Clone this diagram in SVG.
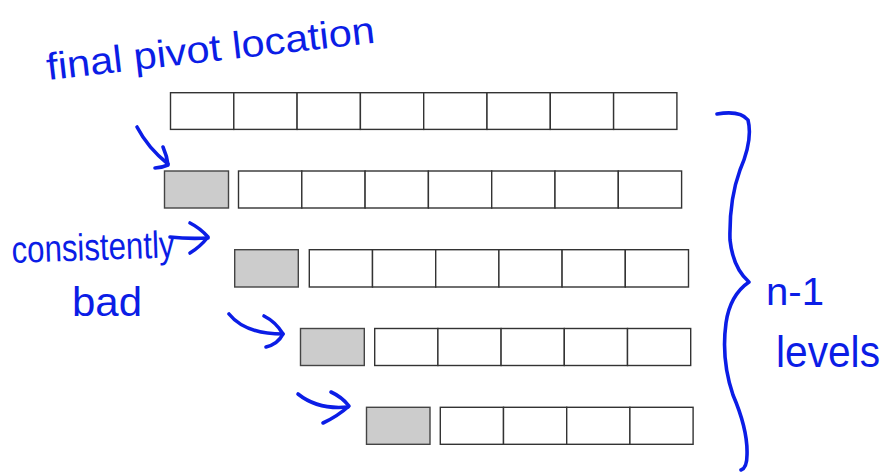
<svg xmlns="http://www.w3.org/2000/svg" width="888" height="474" viewBox="0 0 888 474">
<style>
.cell{fill:#fff;stroke:#333;stroke-width:1.4}
.piv{fill:#cccccc;stroke:#444;stroke-width:1.4}
.ink{fill:none;stroke:#0b1de6;stroke-width:3.6;stroke-linecap:round;stroke-linejoin:round}
.hand{fill:#0b1de6;font-family:"Liberation Sans","DejaVu Sans",sans-serif}
</style>
<rect width="888" height="474" fill="#fff"/>
<g id="row1">
<rect class="cell" x="170.5" y="92.7" width="63.3" height="36.7"/>
<rect class="cell" x="233.8" y="92.7" width="63.3" height="36.7"/>
<rect class="cell" x="297.1" y="92.7" width="63.3" height="36.7"/>
<rect class="cell" x="360.4" y="92.7" width="63.3" height="36.7"/>
<rect class="cell" x="423.7" y="92.7" width="63.3" height="36.7"/>
<rect class="cell" x="487" y="92.7" width="63.3" height="36.7"/>
<rect class="cell" x="550.3" y="92.7" width="63.3" height="36.7"/>
<rect class="cell" x="613.6" y="92.7" width="63.3" height="36.7"/>
</g>
<g id="row2">
<rect class="piv" x="164.5" y="171" width="64" height="37"/>
<rect class="cell" x="238.5" y="171" width="63.3" height="37"/>
<rect class="cell" x="301.8" y="171" width="63.3" height="37"/>
<rect class="cell" x="365.1" y="171" width="63.3" height="37"/>
<rect class="cell" x="428.4" y="171" width="63.3" height="37"/>
<rect class="cell" x="491.7" y="171" width="63.3" height="37"/>
<rect class="cell" x="555" y="171" width="63.3" height="37"/>
<rect class="cell" x="618.3" y="171" width="63.3" height="37"/>
</g>
<g id="row3">
<rect class="piv" x="234.7" y="249.7" width="63.6" height="37.3"/>
<rect class="cell" x="309.3" y="249.7" width="63.2" height="37.3"/>
<rect class="cell" x="372.5" y="249.7" width="63.2" height="37.3"/>
<rect class="cell" x="435.7" y="249.7" width="63.2" height="37.3"/>
<rect class="cell" x="498.9" y="249.7" width="63.2" height="37.3"/>
<rect class="cell" x="562.1" y="249.7" width="63.2" height="37.3"/>
<rect class="cell" x="625.3" y="249.7" width="63.2" height="37.3"/>
</g>
<g id="row4">
<rect class="piv" x="300.5" y="328.5" width="63.8" height="37"/>
<rect class="cell" x="374.7" y="328.5" width="63.2" height="37"/>
<rect class="cell" x="437.9" y="328.5" width="63.2" height="37"/>
<rect class="cell" x="501.1" y="328.5" width="63.2" height="37"/>
<rect class="cell" x="564.3" y="328.5" width="63.2" height="37"/>
<rect class="cell" x="627.5" y="328.5" width="63.2" height="37"/>
</g>
<g id="row5">
<rect class="piv" x="366.5" y="407.3" width="63.5" height="37"/>
<rect class="cell" x="440.3" y="407.3" width="63.2" height="37"/>
<rect class="cell" x="503.5" y="407.3" width="63.2" height="37"/>
<rect class="cell" x="566.7" y="407.3" width="63.2" height="37"/>
<rect class="cell" x="629.9" y="407.3" width="63.2" height="37"/>
</g>
<g id="labels">
<text class="hand" x="48" y="80" font-size="38" textLength="330" lengthAdjust="spacingAndGlyphs" transform="rotate(-6.5 48 80)">final pivot location</text>
<text class="hand" x="12" y="263" font-size="38" textLength="163" lengthAdjust="spacingAndGlyphs" transform="rotate(-2 12 263)">consistently</text>
<text class="hand" x="72" y="316" font-size="40" textLength="70" lengthAdjust="spacingAndGlyphs">bad</text>
<text class="hand" x="766" y="305" font-size="38" textLength="58" lengthAdjust="spacingAndGlyphs">n-1</text>
<text class="hand" x="776" y="367" font-size="44" textLength="104" lengthAdjust="spacingAndGlyphs">levels</text>
</g>
<g id="connectors">
<path class="ink" d="M137,127 Q148,148 168,164"/>
<path class="ink" d="M163,147 Q167,156 168,165 Q161,168 155,168"/>
<path class="ink" d="M170,237 Q188,239 208,238"/>
<path class="ink" d="M190,223 Q200,228 208,237 Q200,247 190,253"/>
<path class="ink" d="M229,314 Q245,334 283,334"/>
<path class="ink" d="M264,316 Q276,322 283,334 Q278,344 266,347"/>
<path class="ink" d="M298,394 Q318,410 348,407"/>
<path class="ink" d="M331,392 Q342,397 349,406 Q338,416 323,423"/>
</g>
<g id="brace">
<path class="ink" d="M717,114 Q740,110 748,120 Q753,140 740,170 Q729,200 730,240 Q733,268 749,282 Q730,295 726,323 Q721,360 733,395 Q748,430 747,455 Q747,468 741,470"/>
</g>
</svg>
